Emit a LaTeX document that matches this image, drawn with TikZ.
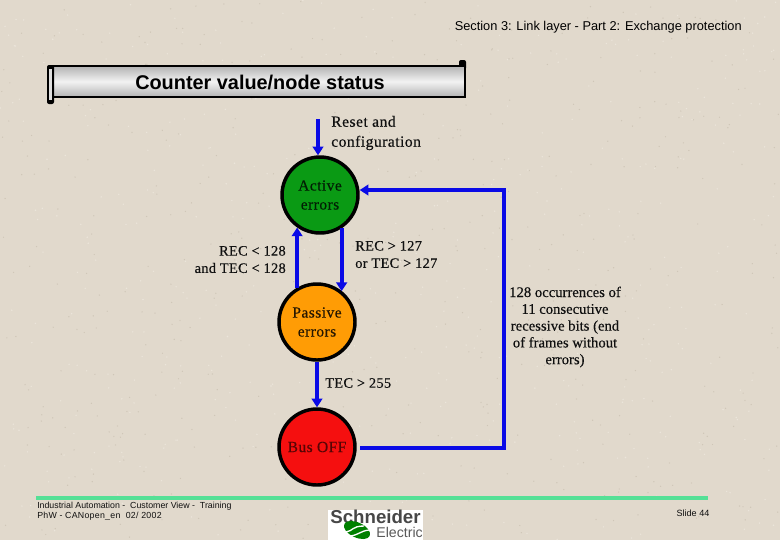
\documentclass[tikz,border=0pt]{standalone}
\usepackage{fontspec}
\setmainfont{Liberation Serif}
\newfontfamily\arialf{Liberation Sans}
\usetikzlibrary{arrows.meta}
\definecolor{bgc}{HTML}{E1D9CC}
\definecolor{speck}{HTML}{CFC6B7}
\definecolor{speckl}{HTML}{EBE5DA}
\definecolor{linkblue}{HTML}{0A0AE6}
\definecolor{rulegreen}{HTML}{55E096}
\definecolor{activeg}{HTML}{0A9A14}
\definecolor{passiveo}{HTML}{FF9C05}
\definecolor{busr}{HTML}{F50F0F}
\definecolor{ltext}{HTML}{101010}
\tikzset{
  x=0.75pt,y=-0.75pt,
  state/.style={circle,draw=black,line width=2.6pt,minimum size=57pt,inner sep=0pt,align=center,
    font=\fontsize{11.6pt}{14.2pt}\selectfont\addfontfeatures{LetterSpace=3,FakeBold=0.35}},
  link/.style={draw=linkblue,line width=3pt,-{Triangle[length=6.5pt,width=8pt]}},
  lab/.style={inner sep=0pt,text=ltext,font=\fontsize{10.8pt}{13pt}\selectfont\addfontfeatures{LetterSpace=2,FakeBold=0.35}},
  foot/.style={inner sep=0pt,anchor=west,text=ltext},
}
\begin{document}
\begin{tikzpicture}
\useasboundingbox (0,0) rectangle (780,540);
\fill[bgc] (0,0) rectangle (780,540);
\pgfmathsetseed{44}
\foreach \i in {1,...,500}{
  \pgfmathsetmacro{\px}{rnd*780}\pgfmathsetmacro{\py}{rnd*540}
  \fill[speck] (\px,\py) circle[radius=0.7];
  \pgfmathsetmacro{\qx}{rnd*780}\pgfmathsetmacro{\qy}{rnd*540}
  \fill[speckl] (\qx,\qy) circle[radius=0.8];
}
% header
\node[inner sep=0pt,anchor=east,font=\arialf\fontsize{9.6pt}{11pt}\selectfont] (header) at (742,27) {Section 3: Link layer - Part 2: Exchange protection};
% title scroll
\fill[black,rounded corners=1.5pt] (459,60) rectangle (466,70);
\shade[top color=gray!60,bottom color=gray!60,middle color=gray!10,draw=black,line width=1.6pt] (51,66) rectangle (465,97);
\fill[black,rounded corners=1.5pt] (47,65) rectangle (54,104);
\fill[gray!25] (49,69) rectangle (52,100);
\node[inner sep=0pt,font=\arialf\bfseries\fontsize{14.9pt}{18pt}\selectfont] (title) at (260,82) {Counter value/node status};
% states
\node[state,fill=activeg,text=black!80!activeg] (active) at (320,195) {Active\\errors};
\node[state,fill=passiveo,text=black!85!passiveo] (passive) at (317,322) {Passive\\errors};
\node[state,fill=busr,text=black!65!busr] (busoff) at (317,447) {Bus OFF};
% connectors
\coordinate (resetstart) at (318,119);
\draw[link] (resetstart) -- (resetstart |- active.north);
\draw[link] (passive.120) -- (passive.120 |- active.235);
\draw[link] (active.-57) -- (active.-57 |- passive.51);
\draw[link] (passive.south) -- (busoff.north);
\coordinate (loopa) at (504,448);
\coordinate (loopb) at (504,190);
\draw[link] ([xshift=2.5pt,yshift=-0.75pt]busoff.east) -- (loopa) -- (loopb) -- (active.east |- loopb);
% labels
\node[lab,anchor=west,align=left,font=\fontsize{11.7pt}{15pt}\selectfont\addfontfeatures{LetterSpace=3,FakeBold=0.35}] (reset) at (331,133) {Reset and\\configuration};
\node[lab,anchor=east,align=right] (rec1) at (286,259.5) {REC < 128\\and TEC < 128};
\node[lab,anchor=west,align=left] (rec2) at (355,254.5) {REC > 127\\or TEC > 127};
\node[lab,align=center,font=\fontsize{11pt}{12.6pt}\selectfont\addfontfeatures{FakeBold=0.35}] (occ) at (565,327) {128 occurrences of\\11 consecutive\\recessive bits (end\\of frames without\\errors)};
\node[lab,anchor=west] (tec) at (325,383) {TEC > 255};
% footer
\coordinate (rulea) at (36,498);
\coordinate (ruleb) at (708,498);
\draw[rulegreen,line width=2.3pt] (rulea) -- (ruleb);
\node[foot,font=\arialf\fontsize{6.6pt}{7.6pt}\selectfont] (foot1) at (37,506) {Industrial Automation -\ \ Customer View -\ \ Training};
\node[foot,font=\arialf\fontsize{6.6pt}{7.6pt}\selectfont\addfontfeatures{LetterSpace=3}] (foot2) at (37,516.5) {PhW - CANopen\_en\ \ 02/ 2002};
\node[inner sep=0pt,font=\arialf\fontsize{6.8pt}{8pt}\selectfont,text=ltext] (slide) at (693,513) {Slide 44};
% logo
\fill[white] (328,510) rectangle (423,540);
\node[inner sep=0pt,anchor=center,font=\arialf\bfseries\fontsize{14pt}{16pt}\selectfont,text=black!72] (logo1) at (375.5,516.5) {Schneider};
\node[inner sep=0pt,anchor=east,font=\arialf\fontsize{10.6pt}{13pt}\selectfont,text=black!65] (logo2) at (423,532.5) {Electric};
\fill[green!50!black,rotate around={-25:(357,530)}] (357,530) ellipse[x radius=14,y radius=7.5];
\draw[white,line width=1pt] (346,532) .. controls (353,531) and (352,526) .. (364,526);
\draw[white,line width=1pt] (350,536) .. controls (359,535) and (360,531) .. (369,530);
\end{tikzpicture}
\end{document}
